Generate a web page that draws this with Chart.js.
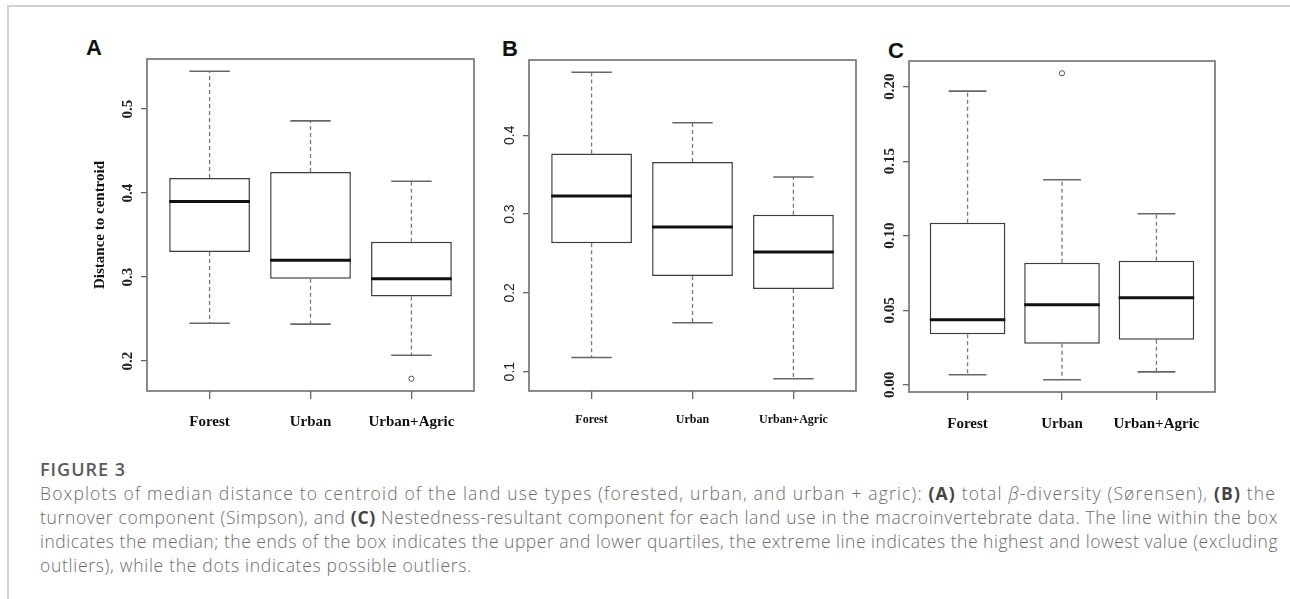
<!DOCTYPE html>
<html>
<head>
<meta charset="utf-8">
<script src="https://cdn.jsdelivr.net/npm/chart.js@4.4.1/dist/chart.umd.min.js"></script>
<style>
  body { margin: 0; background: #fff; width: 1290px; height: 599px; overflow: hidden; position: relative; }
  .frame { position: absolute; left: 7px; top: 5px; right: 0; bottom: 0; border-top: 2px solid #d2d2d2; border-left: 2px solid #d2d2d2; }
  .panel { position: absolute; top: 40px; height: 400px; }
  .tag { position: absolute; font: bold 22px "Liberation Sans", Arial, sans-serif; line-height: 22px; color: #111; }
  .caption { position: absolute; left: 40px; top: 457px; width: 1245px; font-family: "Open Sans", "Noto Sans", sans-serif; color: #6c6c6c; }
  .caption .fig { font-size: 18px; font-weight: 600; line-height: 24px; color: #5a5a5a; letter-spacing: 1px; }
  .caption .txt { font-size: 17.5px; font-weight: 300; line-height: 24px; white-space: nowrap; display: inline-block; }
  .caption b { color: #444; font-weight: 700; }
</style>
</head>
<body>
<div class="frame"></div>
<div class="tag" style="left:86px;top:37px">A</div>
<div class="tag" style="left:502px;top:38px">B</div>
<div class="tag" style="left:888px;top:40px">C</div>

<canvas id="chartA" class="panel" style="left:60px" width="430" height="400"></canvas>
<canvas id="chartB" class="panel" style="left:490px" width="380" height="400"></canvas>
<canvas id="chartC" class="panel" style="left:870px" width="400" height="400"></canvas>

<div class="caption">
  <div class="fig">FIGURE 3</div>
  <div class="txt" data-w="1236">Boxplots of median distance to centroid of the land use types (forested, urban, and urban + agric): <b>(A)</b> total <i>β</i>-diversity (Sørensen), <b>(B)</b> the</div><br>
  <div class="txt" data-w="1238">turnover component (Simpson), and <b>(C)</b> Nestedness-resultant component for each land use in the macroinvertebrate data. The line within the box</div><br>
  <div class="txt" data-w="1238">indicates the median; the ends of the box indicates the upper and lower quartiles, the extreme line indicates the highest and lowest value (excluding</div><br>
  <div class="txt" data-w="432">outliers), while the dots indicates possible outliers.</div>
</div>

<script>
const categories = ['Forest', 'Urban', 'Urban+Agric'];

// A: total beta-diversity (Sorensen)
const aLow = [0.245, 0.244, 0.207];
const aQ1 = [0.330, 0.298, 0.277];
const aMed = [0.390, 0.320, 0.298];
const aQ3 = [0.418, 0.425, 0.342];
const aHigh = [0.545, 0.486, 0.414];
const aOut = [[], [], [0.179]];
const aTicks = ['0.2', '0.3', '0.4', '0.5'];

// B: turnover component (Simpson)
const bLow = [0.118, 0.162, 0.091];
const bQ1 = [0.263, 0.2215, 0.205];
const bMed = [0.323, 0.2835, 0.252];
const bQ3 = [0.377, 0.366, 0.299];
const bHigh = [0.480, 0.416, 0.347];
const bOut = [[], [], []];
const bTicks = ['0.1', '0.2', '0.3', '0.4'];

// C: nestedness-resultant component
const cLow = [0.0067, 0.0034, 0.0087];
const cQ1 = [0.034, 0.0275, 0.0302];
const cMed = [0.0436, 0.0537, 0.0584];
const cQ3 = [0.1087, 0.0819, 0.0832];
const cHigh = [0.197, 0.1376, 0.1148];
const cOut = [[], [0.209], []];
const cTicks = ['0.00', '0.05', '0.10', '0.15', '0.20'];

const serifBold = { family: '"Liberation Serif", "Times New Roman", serif', weight: 'bold', size: 15 };

// stretch caption lines to the widths they have in the figure
document.querySelectorAll('.caption .txt').forEach(el => {
  const natural = el.getBoundingClientRect().width;
  const n = el.textContent.length;
  el.style.letterSpacing = ((+el.dataset.w - natural) / n) + 'px';
});

// whiskers, caps, medians and the plot frame, all placed through the scales
const boxExtras = {
  id: 'boxExtras',
  afterDatasetsDraw(chart) {
    const b = chart.options.plugins.boxExtras;
    const xs = chart.scales.x, ys = chart.scales.y, ctx = chart.ctx;
    ctx.save();
    b.med.forEach((m, i) => {
      const cx = xs.getPixelForValue(i + 1);
      const capHalf = xs.getPixelForValue(i + 1.2) - cx;
      const boxHalf = xs.getPixelForValue(i + 1.4) - cx;
      // dashed whiskers
      ctx.strokeStyle = '#777';
      ctx.lineWidth = 1.3;
      ctx.setLineDash([4, 3]);
      ctx.beginPath();
      ctx.moveTo(cx, ys.getPixelForValue(b.q3[i]));
      ctx.lineTo(cx, ys.getPixelForValue(b.high[i]));
      ctx.moveTo(cx, ys.getPixelForValue(b.q1[i]));
      ctx.lineTo(cx, ys.getPixelForValue(b.low[i]));
      ctx.stroke();
      ctx.setLineDash([]);
      // caps
      ctx.strokeStyle = '#666';
      ctx.lineWidth = 1.6;
      ctx.beginPath();
      [b.high[i], b.low[i]].forEach(v => {
        const y = ys.getPixelForValue(v);
        ctx.moveTo(cx - capHalf, y);
        ctx.lineTo(cx + capHalf, y);
      });
      ctx.stroke();
      // median
      ctx.strokeStyle = '#111';
      ctx.lineWidth = 3;
      ctx.beginPath();
      const ym = ys.getPixelForValue(m);
      ctx.moveTo(cx - boxHalf, ym);
      ctx.lineTo(cx + boxHalf, ym);
      ctx.stroke();
    });
    const a = chart.chartArea;
    ctx.strokeStyle = '#6e6e6e';
    ctx.lineWidth = 1.6;
    ctx.strokeRect(a.left, a.top, a.right - a.left, a.bottom - a.top);
    ctx.restore();
  }
};

function extendRange(values) {
  const lo = Math.min(...values), hi = Math.max(...values);
  const pad = (hi - lo) * 0.04;
  return [lo - pad, hi + pad];
}

function makePanel(id, d) {
  const all = d.low.concat(d.high, d.out.flat());
  const [ymin, ymax] = extendRange(all);
  const tickVals = d.ticks.map(Number);
  const outliers = [];
  d.out.forEach((list, i) => list.forEach(v => outliers.push({ x: i + 1, y: v })));

  new Chart(document.getElementById(id), {
    type: 'bar',
    data: {
      datasets: [{
        type: 'bar',
        data: categories.map((c, i) => ({ x: i + 1, y: [d.q1[i], d.q3[i]] })),
        backgroundColor: '#fff',
        borderColor: '#3c3c3c',
        borderWidth: 1.5,
        borderSkipped: false,
        categoryPercentage: 0.8,
        barPercentage: 1
      }, {
        type: 'scatter',
        data: outliers,
        pointRadius: 2.6,
        pointBackgroundColor: '#fff',
        pointBorderColor: '#555',
        pointBorderWidth: 1
      }]
    },
    options: {
      responsive: false,
      animation: false,
      layout: { padding: d.pad },
      plugins: {
        legend: { display: false },
        tooltip: { enabled: false },
        boxExtras: { low: d.low, q1: d.q1, med: d.med, q3: d.q3, high: d.high }
      },
      scales: {
        x: {
          type: 'linear',
          offset: false,
          min: 0.38,
          max: 3.62,
          afterBuildTicks: s => { s.ticks = categories.map((c, i) => ({ value: i + 1 })); },
          afterFit: s => { s.height = d.xh; },
          grid: { offset: false, drawOnChartArea: false, drawTicks: true, tickLength: 8, color: '#666', lineWidth: 1.3 },
          border: { display: false },
          ticks: {
            autoSkip: false,
            maxRotation: 0,
            padding: d.xpad,
            color: '#111',
            font: d.xfont,
            callback: (v, i) => categories[i]
          }
        },
        y: {
          type: 'linear',
          min: ymin,
          max: ymax,
          afterBuildTicks: s => { s.ticks = tickVals.map(v => ({ value: v })); },
          afterFit: s => { s.width = d.yw; },
          grid: { drawOnChartArea: false, drawTicks: true, tickLength: 6, color: '#666', lineWidth: 1.3 },
          border: { display: false },
          title: d.title || { display: false },
          ticks: {
            autoSkip: false,
            minRotation: 90,
            maxRotation: 90,
            crossAlign: 'center',
            padding: d.ypad,
            color: '#222',
            font: d.yfont,
            callback: (v, i) => d.ticks[i]
          }
        }
      }
    },
    plugins: [boxExtras]
  });
}

makePanel('chartA', {
  low: aLow, q1: aQ1, med: aMed, q3: aQ3, high: aHigh, out: aOut, ticks: aTicks,
  pad: { left: 0, top: 19, right: 16, bottom: 0 }, yw: 87, xh: 49, xpad: 14, ypad: 4,
  xfont: serifBold, yfont: serifBold,
  title: { display: true, text: 'Distance to centroid', color: '#111', font: serifBold, padding: { top: 31, bottom: 0 } }
});

makePanel('chartB', {
  low: bLow, q1: bQ1, med: bMed, q3: bQ3, high: bHigh, out: bOut, ticks: bTicks,
  pad: { left: 0, top: 20, right: 14, bottom: 0 }, yw: 39, xh: 49, xpad: 14, ypad: 3,
  xfont: { family: '"Liberation Serif", "Times New Roman", serif', weight: 'bold', size: 12 },
  yfont: { family: '"Liberation Sans", Arial, sans-serif', size: 14 }
});

makePanel('chartC', {
  low: cLow, q1: cQ1, med: cMed, q3: cQ3, high: cHigh, out: cOut, ticks: cTicks,
  pad: { left: 0, top: 21, right: 55, bottom: 0 }, yw: 39, xh: 48, xpad: 15, ypad: 0,
  xfont: serifBold, yfont: serifBold
});
</script>
</body>
</html>
